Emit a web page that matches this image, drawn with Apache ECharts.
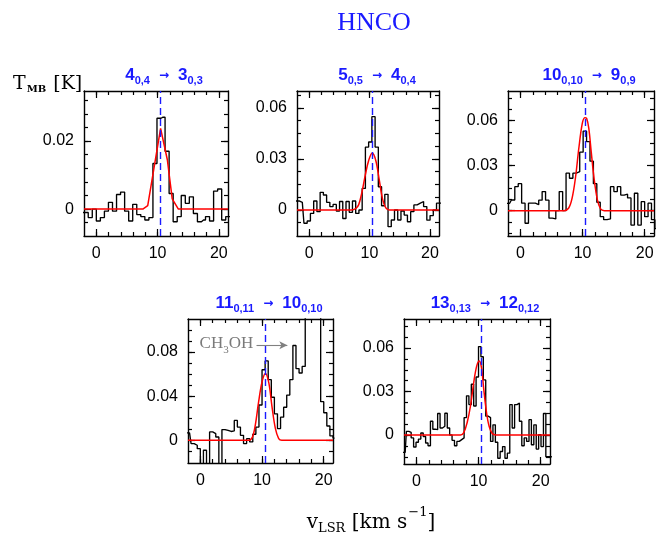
<!DOCTYPE html>
<html><head><meta charset="utf-8">
<script src="https://cdn.jsdelivr.net/npm/echarts@6/dist/echarts.min.js"></script>
<style>html,body{margin:0;padding:0;background:#fff}#c{width:656px;height:536px}</style>
</head><body><div id="c"></div>
<script>
// ---------- data ----------
const xMin = -2, xMax = 21.5;
const vsys = 10.5;
const xMajor = [0, 10, 20];
const xMinor = [0, 2, 4, 6, 8, 10, 12, 14, 16, 18, 20];

// 4(0,4) -> 3(0,3)
const vel1 = [-2.30, -1.64, -0.98, -0.32, 0.34, 1.00, 1.66, 2.32, 2.98, 3.64, 4.30, 4.96, 5.62, 6.28, 6.94, 7.60, 8.26, 8.92, 9.58, 10.24, 10.90, 11.56, 12.22, 12.88, 13.54, 14.20, 14.86, 15.52, 16.18, 16.84, 17.50, 18.16, 18.82, 19.48, 20.14, 20.80, 21.46, 22.12];
const tmb1 = [-0.001, -0.001, -0.0025, 0.0, -0.0035, -0.0025, -0.0006, 0.002, -0.0006, 0.0043, 0.005, -0.0006, -0.0035, 0.0014, -0.0016, -0.0022, -0.0032, -0.0025, 0.0134, 0.0267, 0.027, 0.017, 0.0046, -0.0037, -0.0022, 0.004, 0.0017, 0.0036, -0.0013, -0.0037, -0.0032, -0.0022, -0.0035, 0.0053, 0.0059, -0.0032, -0.0022, -0.0022];
const fitV1 = [-2, 7.6, 8.4, 10.5, 11.6, 12.4, 13.4, 21.5];
const fitT1 = [0, 0, 0.001, 0.0237, 0.0145, 0.003, 0, 0];
const yMajor1 = [0, 0.02];
const yMinor1 = [-0.004, 0, 0.004, 0.008, 0.012, 0.016, 0.02, 0.024, 0.028, 0.032];

// 5(0,5) -> 4(0,4)
const vel2 = [-2.19, -1.65, -1.12, -0.58, -0.05, 0.49, 1.03, 1.56, 2.10, 2.63, 3.17, 3.70, 4.24, 4.77, 5.31, 5.84, 6.38, 6.91, 7.45, 7.98, 8.52, 9.05, 9.59, 10.12, 10.66, 11.19, 11.73, 12.26, 12.80, 13.33, 13.87, 14.40, 14.94, 15.47, 16.01, 16.54, 17.08, 17.61, 18.15, 18.68, 19.22, 19.75, 20.29, 20.82, 21.36, 21.89];
const tmb2 = [0.0053, 0.0053, 0.0045, -0.0078, -0.0065, -0.002, 0.0053, -0.001, 0.0104, 0.0088, 0.0045, 0.002, 0.0033, -0.0006, 0.005, -0.005, 0.005, -0.0014, 0.0053, -0.002, 0, 0.0127, 0.037, 0.040, 0.0549, 0.037, 0.0137, 0.0025, 0.0092, -0.0098, -0.0059, 0, -0.0059, -0.0006, -0.003, -0.0069, -0.001, 0.003, 0.004, 0.005, 0.002, -0.006, -0.0033, 0, 0.004, 0.004];
const fitV2 = [-2, 7.0, 7.7, 8.2, 8.75, 9.3, 9.85, 10.45, 11.05, 11.6, 12.15, 12.7, 13.3, 21.5];
const fitT2 = [0, 0, 0.0008, 0.003, 0.0105, 0.0205, 0.029, 0.0335, 0.029, 0.018, 0.0065, 0.0012, 0, 0];
const yMajor2 = [0, 0.03, 0.06];
const yMinor2 = [-0.0075, 0, 0.0075, 0.015, 0.0225, 0.03, 0.0375, 0.045, 0.0525, 0.06, 0.0675];

// 10(0,10) -> 9(0,9)
const vel3 = [-2.28, -1.73, -1.18, -0.63, -0.08, 0.47, 1.02, 1.57, 2.12, 2.67, 3.22, 3.77, 4.32, 4.87, 5.42, 5.97, 6.52, 7.07, 7.62, 8.17, 8.72, 9.27, 9.82, 10.37, 10.92, 11.47, 12.02, 12.57, 13.12, 13.67, 14.22, 14.77, 15.32, 15.87, 16.42, 16.97, 17.52, 18.07, 18.62, 19.17, 19.72, 20.27, 20.82, 21.37, 21.92, 22.47];
const tmb3 = [0.0049, 0.0049, 0.0071, 0.016, 0.018, 0.005, -0.0084, 0.005, 0.005, 0.004, 0.007, 0.0127, 0.007, -0.005, -0.0055, 0, 0.0127, 0, 0.025, 0.0216, 0.025, 0.026, 0.039, 0.053, 0.046, 0.033, 0.018, 0.0056, -0.004, -0.006, -0.0055, 0.016, 0.0127, 0.016, 0.0104, 0.011, 0.0085, -0.0096, 0.0116, -0.0096, 0.006, -0.004, 0.005, -0.006, -0.012, -0.0085];
const fitV3 = [-2, 7.0, 7.75, 8.3, 8.85, 9.4, 9.95, 10.35, 10.65, 11.0, 11.4, 11.85, 12.4, 12.9, 13.5, 21.5];
const fitT3 = [0, 0, 0.0016, 0.008, 0.0216, 0.0416, 0.058, 0.062, 0.0616, 0.055, 0.039, 0.0216, 0.007, 0.0012, 0, 0];
const yMajor3 = [0, 0.03, 0.06];
const yMinor3 = [-0.015, -0.0075, 0, 0.0075, 0.015, 0.0225, 0.03, 0.0375, 0.045, 0.0525, 0.06, 0.0675, 0.075];

// 11(0,11) -> 10(0,10)
const vel4 = [-2.25, -1.75, -1.25, -0.75, -0.25, 0.25, 0.75, 1.25, 1.75, 2.25, 2.75, 3.25, 3.75, 4.25, 4.75, 5.25, 5.75, 6.25, 6.75, 7.25, 7.75, 8.25, 8.75, 9.25, 9.75, 10.25, 10.75, 11.25, 11.75, 12.25, 12.75, 13.25, 13.75, 14.25, 14.75, 15.25, 15.75, 16.25, 16.75, 17.25, 17.75, 18.25, 18.75, 19.25, 19.75, 20.25, 20.75, 21.25, 21.75];
const tmb4 = [0.0067, 0.0067, -0.003, -0.0045, -0.0076, -0.025, -0.009, -0.025, 0.0076, 0.006, 0.003, -0.025, 0.0097, 0.009, 0.008, 0.0085, 0.018, 0.012, 0.0045, -0.003, 0.0015, -0.0015, 0.0055, 0.012, 0.032, 0.064, 0.072, 0.055, 0.039, 0.024, 0.0106, 0.021, 0.03, 0.041, 0.055, 0.086, 0.065, 0.061, 0.067, 0.14, 0.17, 0.19, 0.18, 0.15, 0.035, 0.025, 0.013, 0.004, 0.002];
const fitV4 = [-2, 7.8, 8.4, 8.9, 9.45, 10.0, 10.55, 11.1, 11.6, 12.15, 12.7, 13.2, 21.5];
const fitT4 = [0, 0, 0.0024, 0.0136, 0.035, 0.053, 0.0605, 0.052, 0.031, 0.011, 0.0015, 0, 0];
const yMajor4 = [0, 0.04, 0.08];
const yMinor4 = [-0.01, 0, 0.01, 0.02, 0.03, 0.04, 0.05, 0.06, 0.07, 0.08, 0.09, 0.1];

// 13(0,13) -> 12(0,12)
const vel5 = [-2.20, -1.81, -1.42, -1.04, -0.65, -0.26, 0.13, 0.51, 0.90, 1.29, 1.67, 2.06, 2.45, 2.83, 3.22, 3.61, 4.00, 4.38, 4.77, 5.16, 5.54, 5.93, 6.32, 6.70, 7.09, 7.48, 7.87, 8.25, 8.64, 9.03, 9.41, 9.80, 10.19, 10.57, 10.96, 11.35, 11.74, 12.12, 12.51, 12.90, 13.28, 13.67, 14.06, 14.44, 14.83, 15.22, 15.61, 15.99, 16.38, 16.77, 17.15, 17.54, 17.93, 18.31, 18.70, 19.09, 19.48, 19.86, 20.25, 20.64, 21.02, 21.41, 21.80];
const tmb5 = [-0.012, -0.012, 0.0025, 0.0018, -0.002, -0.0083, -0.005, -0.0028, 0.0014, -0.001, -0.0055, -0.0074, 0.0095, 0.004, 0.0037, 0.0148, 0.0048, 0.006, 0.015, 0.0048, 0.0, -0.0037, -0.0074, -0.0044, -0.0032, -0.002, 0.012, 0.027, 0.021, 0.035, 0.02, 0.04, 0.061, 0.054, 0.038, 0.013, 0.012, -0.0044, 0.007, -0.005, -0.016, -0.0114, -0.008, -0.016, -0.0125, 0.021, 0.0048, 0.021, 0.022, 0.0095, -0.0074, -0.002, -0.0044, 0.0106, -0.0067, 0.007, -0.0097, 0.0002, -0.008, 0.0148, -0.015, -0.015, -0.015];
const fitV5 = [-2, 7.1, 7.6, 8.15, 8.7, 9.25, 9.7, 10.1, 10.45, 10.85, 11.3, 11.7, 12.2, 12.8, 21.5];
const fitT5 = [0, 0, 0.0014, 0.0083, 0.02, 0.037, 0.0475, 0.051, 0.047, 0.031, 0.015, 0.006, 0.001, 0, 0];
const yMajor5 = [0, 0.03, 0.06];
const yMinor5 = [-0.015, -0.0075, 0, 0.0075, 0.015, 0.0225, 0.03, 0.0375, 0.045, 0.0525, 0.06, 0.0675, 0.075];

// ---------- layout / style ----------
const BLUE = '#1a1aff';
const panels = [
  {grid:{left:84, top:91, width:144, height:145}, y:[-0.0079, 0.0347], vel:vel1, tmb:tmb1, fv:fitV1, ft:fitT1, ymaj:yMajor1, ymin:yMinor1, smooth:false,
   title:'{n|4}{s|0,4}{a|→}{n|3}{s|0,3}', tx:159, ty:62},
  {grid:{left:297, top:91, width:142, height:145}, y:[-0.0153, 0.070], vel:vel2, tmb:tmb2, fv:fitV2, ft:fitT2, ymaj:yMajor2, ymin:yMinor2, smooth:0.35,
   title:'{n|5}{s|0,5}{a|→}{n|4}{s|0,4}', tx:372, ty:62},
  {grid:{left:508, top:91, width:146, height:145}, y:[-0.0169, 0.0798], vel:vel3, tmb:tmb3, fv:fitV3, ft:fitT3, ymaj:yMajor3, ymin:yMinor3, smooth:0.35,
   title:'{n|10}{s|0,10}{a|→}{n|9}{s|0,9}', tx:584, ty:62},
  {grid:{left:188, top:319, width:145, height:144}, y:[-0.0206, 0.11], vel:vel4, tmb:tmb4, fv:fitV4, ft:fitT4, ymaj:yMajor4, ymin:yMinor4, smooth:0.35,
   title:'{n|11}{s|0,11}{a|→}{n|10}{s|0,10}', tx:264, ty:290, note:true},
  {grid:{left:404, top:319, width:146, height:145}, y:[-0.02, 0.08], vel:vel5, tmb:tmb5, fv:fitV5, ft:fitT5, ymaj:yMajor5, ymin:yMinor5, smooth:0.35,
   title:'{n|13}{s|0,13}{a|→}{n|12}{s|0,12}', tx:480, ty:290}
];

const labelStyle = {color:'#000', fontSize:16, fontFamily:'Liberation Sans', margin:10};

function makeAxes(dim, g, min, max, major, minor) {
  const pos = dim === 'x' ? ['bottom', 'top'] : ['left', 'right'];
  const base = {type:'value', gridIndex:g, min:min, max:max, splitLine:{show:false}, splitArea:{show:false}, minorTick:{show:false}, axisPointer:{show:false}};
  const out = [];
  pos.forEach(function (p, pi) {
    out.push(Object.assign({}, base, {
      position:p,
      axisLine:{show:true, onZero:false, lineStyle:{color:'#000', width:1.4}},
      axisTick:{show:true, inside:true, length:7, customValues:major, lineStyle:{color:'#000', width:1.2}},
      axisLabel: pi === 0 ? Object.assign({show:true, customValues:major}, labelStyle) : {show:false}
    }));
    out.push(Object.assign({}, base, {
      position:p,
      axisLine:{show:false, onZero:false},
      axisTick:{show:true, inside:true, length:4, customValues:minor, lineStyle:{color:'#000', width:1.2}},
      axisLabel:{show:false}
    }));
  });
  return out;
}

function pairs(a, b) { return a.map(function (v, i) { return [v, b[i]]; }); }

const grids = [], xAxes = [], yAxes = [], series = [];
const titleRich = {
  n:{fontSize:17, fontWeight:'bold', color:BLUE, fontFamily:'Liberation Sans', verticalAlign:'bottom', padding:[0,0,2,0]},
  s:{fontSize:11, fontWeight:'bold', color:BLUE, fontFamily:'Liberation Sans', verticalAlign:'bottom'},
  a:{fontSize:12, fontWeight:'bold', color:BLUE, fontFamily:'DejaVu Sans', verticalAlign:'bottom', padding:[0,9,4,9]}
};
const titles = [
  {text:'HNCO', left:369, top:5, textAlign:'center', textStyle:{fontFamily:'Liberation Serif', fontSize:26, fontWeight:'normal', color:BLUE}},
  {text:'{t|T}{s|MB}{t| [K]}', left:8, top:70, textStyle:{fontWeight:'normal', rich:{
    t:{fontFamily:'DejaVu Serif', fontSize:19, fontWeight:'normal', color:'#000', verticalAlign:'bottom'},
    s:{fontFamily:'DejaVu Serif', fontSize:10, fontWeight:'bold', color:'#000', verticalAlign:'bottom', padding:[0,1,0,1]}}}},
  {text:'{t|v}{s|LSR}{t| [km s}{p|−1}{t|]}', left:366, top:501, textAlign:'center', textStyle:{fontWeight:'normal', rich:{
    t:{fontFamily:'DejaVu Serif', fontSize:20, fontWeight:'normal', color:'#000', verticalAlign:'bottom', padding:[0,0,2,0]},
    s:{fontFamily:'DejaVu Serif', fontSize:13, fontWeight:'normal', color:'#000', verticalAlign:'bottom'},
    p:{fontFamily:'DejaVu Serif', fontSize:13, fontWeight:'normal', color:'#000', verticalAlign:'bottom', padding:[0,0,16,1]}}}}
];

panels.forEach(function (P, g) {
  grids.push(Object.assign({show:false, containLabel:false, outerBoundsMode:'none'}, P.grid));
  makeAxes('x', g, xMin, xMax, xMajor, xMinor).forEach(function (a) { xAxes.push(a); });
  makeAxes('y', g, P.y[0], P.y[1], P.ymaj, P.ymin).forEach(function (a) { yAxes.push(a); });
  const mlData = [{xAxis:vsys}];
  if (P.note) {
    mlData.push([
      {coord:[9.1, 0.0862], symbol:'none', lineStyle:{color:'#808080', width:1.1, type:'solid'}},
      {coord:[14.1, 0.0862], symbol:'arrow', symbolSize:[6, 8]}
    ]);
  }
  const hist = {
    type:'line', xAxisIndex:4*g, yAxisIndex:4*g, data:pairs(P.vel, P.tmb), step:'middle',
    showSymbol:false, symbol:'none', clip:true, animation:false, z:2,
    lineStyle:{color:'#000', width:1.35},
    markLine:{silent:true, animation:false, symbol:'none', label:{show:false},
      lineStyle:{color:BLUE, type:[7,4], width:1.4}, data:mlData}
  };
  if (P.note) {
    hist.markPoint = {silent:true, animation:false, data:[{
      coord:[-0.2, 0.0862], symbol:'circle', symbolSize:1, itemStyle:{color:'rgba(0,0,0,0)'},
      label:{show:true, position:'right', distance:0, formatter:'{m|CH}{b|3}{m|OH}',
        rich:{m:{fontFamily:'Liberation Serif', fontSize:17, color:'#7a7a7a', verticalAlign:'bottom', padding:[0,0,3,0]},
              b:{fontFamily:'Liberation Serif', fontSize:11, color:'#7a7a7a', verticalAlign:'bottom'}}}
    }]};
  }
  series.push(hist);
  series.push({
    type:'line', xAxisIndex:4*g, yAxisIndex:4*g, data:pairs(P.fv, P.ft), smooth:P.smooth,
    showSymbol:false, symbol:'none', clip:true, animation:false, z:3,
    lineStyle:{color:'#ff0000', width:1.5}
  });
  titles.push({text:P.title, left:P.tx, top:P.ty, textAlign:'center', textStyle:{rich:titleRich}});
});

const chart = echarts.init(document.getElementById('c'), null, {renderer:'canvas'});
chart.setOption({
  backgroundColor:'#fff', animation:false,
  title:titles, grid:grids, xAxis:xAxes, yAxis:yAxes, series:series
});
</script></body></html>
